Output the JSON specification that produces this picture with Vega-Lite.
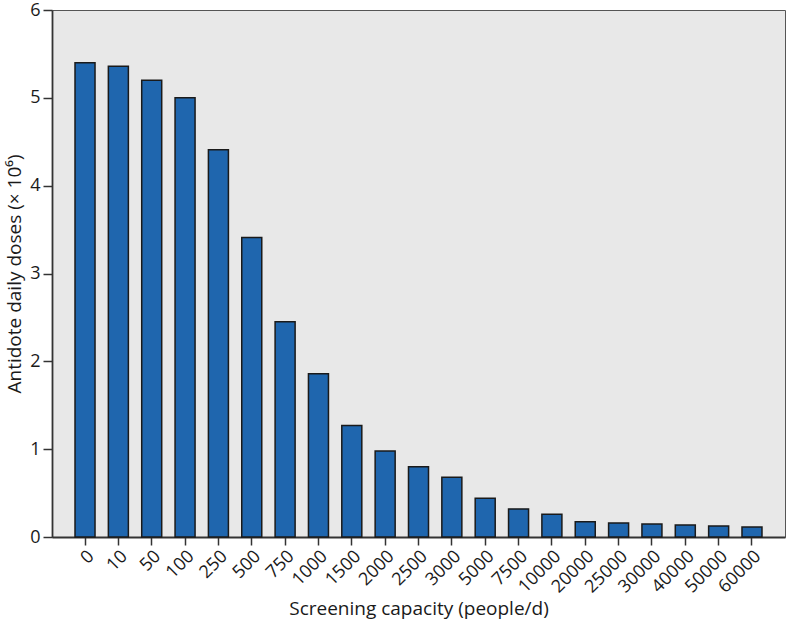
{
  "$schema": "https://vega.github.io/schema/vega-lite/v6.json",
  "width": 733,
  "height": 527,
  "autosize": {"type": "none"},
  "padding": {"left": 52, "top": 10, "right": 2, "bottom": 87},
  "background": "white",
  "config": {
    "view": {"fill": "#e8e8e8", "stroke": "#555555", "strokeWidth": 1},
    "font": "Open Sans"
  },
  "data": {
    "values": [
      {"capacity": "0", "doses": 5.40},
      {"capacity": "10", "doses": 5.36},
      {"capacity": "50", "doses": 5.20},
      {"capacity": "100", "doses": 5.00},
      {"capacity": "250", "doses": 4.41},
      {"capacity": "500", "doses": 3.41},
      {"capacity": "750", "doses": 2.45},
      {"capacity": "1000", "doses": 1.86},
      {"capacity": "1500", "doses": 1.27},
      {"capacity": "2000", "doses": 0.98},
      {"capacity": "2500", "doses": 0.80},
      {"capacity": "3000", "doses": 0.68},
      {"capacity": "5000", "doses": 0.44},
      {"capacity": "7500", "doses": 0.32},
      {"capacity": "10000", "doses": 0.26},
      {"capacity": "20000", "doses": 0.175},
      {"capacity": "25000", "doses": 0.16},
      {"capacity": "30000", "doses": 0.148},
      {"capacity": "40000", "doses": 0.137},
      {"capacity": "50000", "doses": 0.125},
      {"capacity": "60000", "doses": 0.114}
    ]
  },
  "mark": {"type": "bar", "fill": "#1f66ae", "stroke": "#1a1a1a", "strokeWidth": 1.5},
  "encoding": {
    "x": {
      "field": "capacity",
      "type": "ordinal",
      "sort": null,
      "scale": {"paddingInner": 0.4, "paddingOuter": 0.69},
      "axis": {
        "title": "Screening capacity (people/d)",
        "titleFontSize": 19,
        "titleFontWeight": "normal",
        "titleColor": "#1a1a1a",
        "titlePadding": 3,
        "labelAngle": -45,
        "labelFontSize": 18,
        "labelColor": "#1a1a1a",
        "labelPadding": 2,
        "tickSize": 8,
        "tickColor": "#333333",
        "tickWidth": 1.5,
        "domainColor": "#333333",
        "domainWidth": 1.8
      }
    },
    "y": {
      "field": "doses",
      "type": "quantitative",
      "scale": {"domain": [0, 6], "nice": false},
      "axis": {
        "title": "Antidote daily doses (× 10⁶)",
        "titleFontSize": 19,
        "titleFontWeight": "normal",
        "titleColor": "#1a1a1a",
        "titlePadding": 5,
        "values": [0, 1, 2, 3, 4, 5, 6],
        "grid": false,
        "labelFontSize": 18,
        "labelColor": "#1a1a1a",
        "labelPadding": 3,
        "tickSize": 9,
        "tickColor": "#333333",
        "tickWidth": 1.5,
        "domainColor": "#333333",
        "domainWidth": 1.8
      }
    }
  }
}
